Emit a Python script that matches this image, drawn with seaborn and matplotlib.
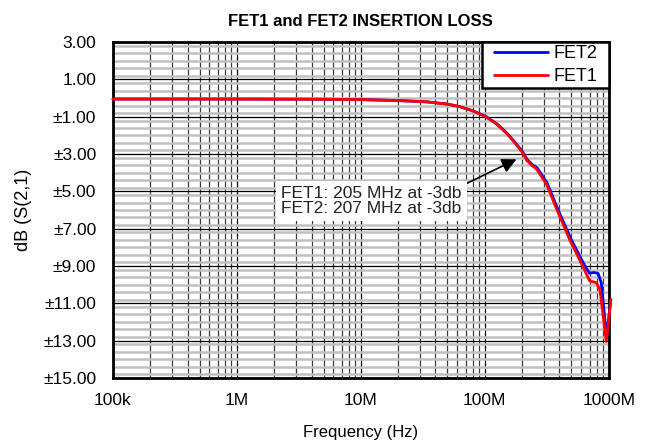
import numpy as np
import pandas as pd
import seaborn as sns
import matplotlib
matplotlib.use("Agg")
import matplotlib.pyplot as plt
from matplotlib.patches import Rectangle
from matplotlib.ticker import FixedLocator, NullFormatter, LogLocator, MultipleLocator

# Values (frequency in Hz, S21 in dB)
fet1_freq = [1e5, 1e6, 5e6, 1e7, 2e7, 3.4e7, 5e7, 6.3e7, 8e7, 1.02e8, 1.25e8,
             1.5e8, 1.75e8, 1.95e8, 2.05e8, 2.17e8, 2.38e8, 2.61e8, 3.14e8,
             3.77e8, 4.85e8, 6.2e8, 7.0e8, 7.95e8, 8.5e8, 9.55e8, 1.04e9]
fet1_db = [-0.05, -0.05, -0.06, -0.08, -0.13, -0.2, -0.32, -0.46, -0.68, -1.0, -1.4,
           -1.89, -2.4, -2.8, -3.0, -3.32, -3.59, -3.8, -4.6,
           -5.9, -7.6, -9.04, -9.8, -9.9, -10.3, -13.05, -10.8]

fet2_freq = [1e5, 1e6, 5e6, 1e7, 2e7, 3.4e7, 5e7, 6.3e7, 8e7, 1.02e8, 1.25e8,
             1.5e8, 1.75e8, 1.97e8, 2.07e8, 2.2e8, 2.4e8, 2.65e8, 3.18e8,
             3.85e8, 4.95e8, 6.3e8, 7.0e8, 7.6e8, 8.2e8, 8.7e8, 9.6e8, 1.04e9]
fet2_db = [-0.05, -0.05, -0.06, -0.08, -0.13, -0.2, -0.32, -0.46, -0.68, -0.98, -1.38,
           -1.86, -2.37, -2.78, -3.0, -3.3, -3.55, -3.75, -4.55,
           -5.9, -7.55, -8.9, -9.39, -9.35, -9.4, -9.9, -12.8, -10.8]

y_ticks = [3, 1, -1, -3, -5, -7, -9, -11, -13, -15]
y_tick_labels = ["3.00", "1.00", "±1.00", "±3.00", "±5.00", "±7.00",
                 "±9.00", "±11.00", "±13.00", "±15.00"]
x_ticks = [1e5, 1e6, 1e7, 1e8, 1e9]
x_tick_labels = ["100k", "1M", "10M", "100M", "1000M"]

sns.set_style("white")
plt.rcParams["font.family"] = ["Liberation Sans", "DejaVu Sans"]
plt.rcParams["text.color"] = "black"
plt.rcParams["axes.labelcolor"] = "black"

fig = plt.figure(figsize=(6.49, 4.44), dpi=100)
ax = fig.add_axes([0.174, 0.149, 0.764, 0.756])

df1 = pd.DataFrame({"freq": fet1_freq, "db": fet1_db})
df2 = pd.DataFrame({"freq": fet2_freq, "db": fet2_db})

# blue first so red sits on top, legend order FET2 then FET1
sns.lineplot(data=df2, x="freq", y="db", ax=ax, color="#0000ff", lw=2,
             label="FET2", clip_on=False, zorder=3)
sns.lineplot(data=df1, x="freq", y="db", ax=ax, color="#ff0000", lw=2,
             label="FET1", clip_on=False, zorder=4)

ax.set_xscale("log")
ax.set_xlim(1e5, 1e9)
ax.set_ylim(-15, 3)

ax.xaxis.set_major_locator(FixedLocator(x_ticks))
ax.set_xticklabels(x_tick_labels)
ax.xaxis.set_minor_locator(LogLocator(base=10, subs=np.arange(2, 10)))
ax.xaxis.set_minor_formatter(NullFormatter())
ax.set_yticks(y_ticks)
ax.set_yticklabels(y_tick_labels)
ax.yaxis.set_minor_locator(MultipleLocator(0.4))

ax.set_axisbelow(True)
ax.grid(which="minor", axis="y", color="#c0c0c0", lw=1.8)
ax.grid(which="minor", axis="x", color="#3a3a3a", lw=0.9)
ax.grid(which="major", axis="both", color="black", lw=0.9)

ax.tick_params(which="both", length=0, labelsize=12.5, colors="black")
ax.tick_params(axis="y", pad=12)
ax.tick_params(axis="x", pad=11)

for s in ax.spines.values():
    s.set_color("black")
    s.set_linewidth(2)

ax.set_xlabel("Frequency (Hz)", fontsize=12, labelpad=12)
ax.set_ylabel("dB (S(2,1)", fontsize=13, labelpad=8)
ax.set_title("FET1 and FET2 INSERTION LOSS", fontsize=12, fontweight="bold",
             pad=12, color="black")

# legend entries without frame, frame drawn as a separate box
leg = ax.legend(loc="upper right", bbox_to_anchor=(0.98, 0.996), fontsize=13,
                frameon=False, borderaxespad=0, handlelength=3,
                handletextpad=0.3, borderpad=0.1, labelspacing=0.32)
leg.set_zorder(7)
ax.add_patch(Rectangle((0.744, 0.863), 0.256, 0.137, transform=ax.transAxes,
                       facecolor="white", edgecolor="black", lw=1.8,
                       zorder=6, clip_on=False))

ax.annotate("FET1: 205 MHz at -3db\nFET2: 207 MHz at -3db",
            xy=(1.8e8, -3.28), xycoords="data",
            xytext=(0.339, 0.527), textcoords="axes fraction",
            ha="left", va="center", fontsize=12.5, color="#222222",
            linespacing=1.0,
            bbox=dict(boxstyle="square,pad=0.3", fc="white", ec="none"),
            arrowprops=dict(arrowstyle="-|>", color="black", lw=1.2,
                            mutation_scale=22, shrinkA=0, shrinkB=0,
                            relpos=(1, 1)),
            zorder=5)

fig.savefig("out.png", dpi=100)
